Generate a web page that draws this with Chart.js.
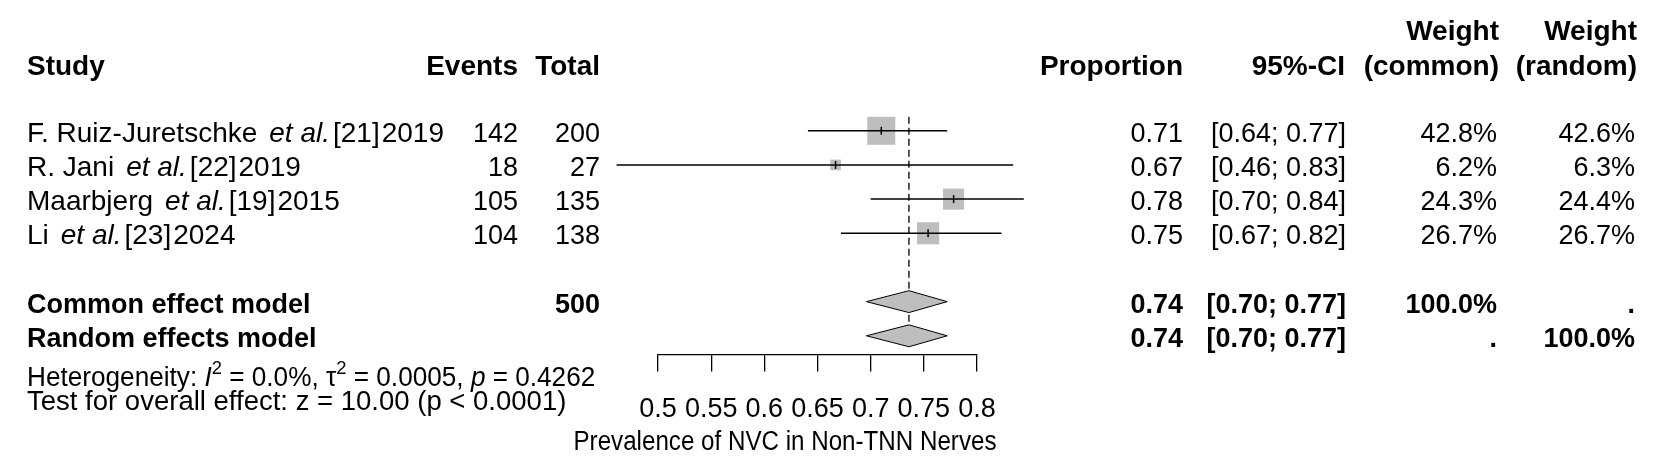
<!DOCTYPE html>
<html>
<head>
<meta charset="utf-8">
<script src="https://cdn.jsdelivr.net/npm/chart.js@4.4.0/dist/chart.umd.min.js"></script>
<style>
  html, body { margin: 0; padding: 0; background: #fff; }
  #wrap { position: relative; width: 1665px; height: 473px; }
</style>
</head>
<body>
<div id="wrap"><canvas id="forest"></canvas></div>
<script>
// ===== DATA =====
const studyNames = ["F. Ruiz-Juretschke", "R. Jani", "Maarbjerg", "Li"];
const studyRefs = ["[21]", "[22]", "[19]", "[23]"];
const studyYears = ["2019", "2019", "2015", "2024"];
const events = [142, 18, 105, 104];
const totals = [200, 27, 135, 138];
const proportions = [0.710, 0.667, 0.778, 0.754];
const ciLower = [0.641, 0.461, 0.700, 0.672];
const ciUpper = [0.772, 0.834, 0.844, 0.823];
const weightCommon = [42.8, 6.2, 24.3, 26.7];
const weightRandom = [42.6, 6.3, 24.4, 26.7];

const pooledLabels = ["Common effect model", "Random effects model"];
const pooledEst = [0.736, 0.736];
const pooledLower = [0.696, 0.696];
const pooledUpper = [0.772, 0.772];

const xTicks = [0.5, 0.55, 0.6, 0.65, 0.7, 0.75, 0.8];
const xTitle = "Prevalence of NVC in Non-TNN Nerves";

// ===== LAYOUT / STYLE =====
const FONT = '"Liberation Sans", Arial, sans-serif';
const FS = 27;
const GRAY = '#BEBEBE';
const studyRows = [1, 2, 3, 4];
const pooledRows = [6, 7];
const SQUARE_K = 4.28;      // square side (px) per sqrt(weight)
const DIAMOND_H = 0.32;     // half height of diamond in row units

function font(size, style) { return (style || '') + ' ' + size + 'px ' + FONT; }
const sum = a => a.reduce((s, v) => s + v, 0);

// ===== DATASETS =====
const datasets = [];

// common-effect reference line (dashed)
datasets.push({
  type: 'line',
  data: [{ x: pooledEst[0], y: 0.59 }, { x: pooledEst[0], y: pooledRows[1] }],
  borderColor: '#000', borderWidth: 1.3, borderDash: [7, 4],
  pointRadius: 0, order: 5, clip: false
});

// study squares
datasets.push({
  type: 'scatter',
  data: proportions.map((p, i) => ({ x: p, y: studyRows[i] })),
  pointStyle: 'rect',
  pointRadius: weightCommon.map(w => SQUARE_K * Math.sqrt(w) / Math.SQRT2),
  backgroundColor: GRAY, borderColor: GRAY, borderWidth: 0,
  order: 3, clip: false
});

// confidence intervals
proportions.forEach((p, i) => {
  datasets.push({
    type: 'line',
    data: [{ x: ciLower[i], y: studyRows[i] }, { x: ciUpper[i], y: studyRows[i] }],
    borderColor: '#000', borderWidth: 1.5, pointRadius: 0,
    order: 2, clip: false
  });
});

// point estimate tick inside the square
datasets.push({
  type: 'scatter',
  data: proportions.map((p, i) => ({ x: p, y: studyRows[i] })),
  pointStyle: 'line', rotation: 90, pointRadius: 4,
  borderColor: '#000', borderWidth: 1.5,
  order: 1, clip: false
});

// pooled diamonds
pooledEst.forEach((est, i) => {
  const r = pooledRows[i];
  datasets.push({
    type: 'line',
    data: [
      { x: pooledLower[i], y: r },
      { x: est, y: r - DIAMOND_H },
      { x: pooledUpper[i], y: r },
      { x: est, y: r + DIAMOND_H },
      { x: pooledLower[i], y: r }
    ],
    fill: 'shape', backgroundColor: GRAY,
    borderColor: '#000', borderWidth: 1, pointRadius: 0, tension: 0,
    order: 1, clip: false
  });
});

// ===== TEXT TABLE PLUGIN =====
// draws a run of differently styled pieces, optionally squeezed/stretched horizontally
function drawRuns(ctx, x, y, runs, sx) {
  ctx.save();
  ctx.translate(x, y);
  ctx.scale(sx || 1, 1);
  ctx.textAlign = 'left';
  let cx = 0;
  runs.forEach(r => {
    ctx.font = r.font;
    ctx.fillText(r.t, cx, r.dy || 0);
    cx += ctx.measureText(r.t).width + (r.gap || 0);
  });
  ctx.restore();
}

const tablePlugin = {
  id: 'forestTable',
  afterDraw(chart) {
    const ctx = chart.ctx;
    const ys = chart.scales.y;
    const rowY = r => ys.getPixelForValue(r) + 11;
    const N = font(FS), B = font(FS, 'bold'), HB = font(28, 'bold'), S = font(19);
    const SN = font(28), SI = font(28, 'italic');

    ctx.save();
    ctx.fillStyle = '#000';
    ctx.textBaseline = 'alphabetic';

    const right = (t, x, y, f) => { ctx.font = f; ctx.textAlign = 'right'; ctx.fillText(t, x, y); };
    const left = (t, x, y, f) => { ctx.font = f; ctx.textAlign = 'left'; ctx.fillText(t, x, y); };

    // headers
    left('Study', 27, 75, HB);
    right('Events', 518, 75, HB);
    right('Total', 600, 75, HB);
    right('Proportion', 1183, 75, HB);
    right('95%-CI', 1345, 75, HB);
    right('Weight', 1499, 40, HB);
    right('(common)', 1499, 75, HB);
    right('Weight', 1637, 40, HB);
    right('(random)', 1637, 75, HB);

    // study rows
    studyNames.forEach((name, i) => {
      const y = rowY(studyRows[i]);
      drawRuns(ctx, 27, y, [
        { t: name, font: SN, gap: 12 },
        { t: 'et al.', font: SI, gap: 3 },
        { t: studyRefs[i], font: SN, gap: 2 },
        { t: studyYears[i], font: SN }
      ]);
      right(String(events[i]), 518, y, N);
      right(String(totals[i]), 600, y, N);
      right(proportions[i].toFixed(2), 1183, y, N);
      right('[' + ciLower[i].toFixed(2) + '; ' + ciUpper[i].toFixed(2) + ']', 1346, y, N);
      right(weightCommon[i].toFixed(1) + '%', 1497, y, N);
      right(weightRandom[i].toFixed(1) + '%', 1635, y, N);
    });

    // pooled rows
    pooledLabels.forEach((lab, i) => {
      const y = rowY(pooledRows[i]);
      left(lab, 27, y, B);
      if (i === 0) right(String(sum(totals)), 600, y, B);
      right(pooledEst[i].toFixed(2), 1183, y, B);
      right('[' + pooledLower[i].toFixed(2) + '; ' + pooledUpper[i].toFixed(2) + ']', 1346, y, B);
      right(i === 0 ? sum(weightCommon).toFixed(1) + '%' : '.', 1497, y, B);
      right(i === 1 ? sum(weightRandom).toFixed(1) + '%' : '.', 1635, y, B);
    });

    // heterogeneity and overall test
    drawRuns(ctx, 27, 386, [
      { t: 'Heterogeneity: ', font: N },
      { t: 'I', font: font(FS, 'italic') },
      { t: '2', font: S, dy: -12 },
      { t: ' = 0.0%, τ', font: N },
      { t: '2', font: S, dy: -12 },
      { t: ' = 0.0005, ', font: N },
      { t: 'p', font: font(FS, 'italic') },
      { t: ' = 0.4262', font: N }
    ], 0.969);
    drawRuns(ctx, 27, 410, [
      { t: 'Test for overall effect: z = 10.00 (p < 0.0001)', font: N }
    ], 1.019);

    // x axis title
    ctx.font = N;
    ctx.textAlign = 'center';
    ctx.fillText(xTitle, 785, 450, 423);
    ctx.restore();
  }
};

// ===== CHART =====
new Chart(document.getElementById('forest'), {
  type: 'scatter',
  data: { datasets },
  plugins: [tablePlugin],
  options: {
    responsive: true,
    maintainAspectRatio: false,
    animation: false,
    events: [],
    layout: { padding: { left: 658, right: 688, top: 96.6, bottom: 25 } },
    plugins: { legend: { display: false }, tooltip: { enabled: false } },
    scales: {
      x: {
        type: 'linear', position: 'bottom', min: 0.5, max: 0.8,
        afterBuildTicks: s => { s.ticks = xTicks.map(v => ({ value: v })); },
        border: { display: true, color: '#000', width: 1.3 },
        grid: { drawOnChartArea: false, drawTicks: true, tickLength: 17, color: '#000', lineWidth: 1.3 },
        ticks: {
          autoSkip: false, maxRotation: 0, minRotation: 0, padding: 22,
          color: '#000', font: { family: FONT, size: FS },
          callback: v => String(+(+v).toFixed(2))
        }
      },
      y: { type: 'linear', reverse: true, min: 0, max: 7.55, display: false }
    }
  }
});
</script>
</body>
</html>
